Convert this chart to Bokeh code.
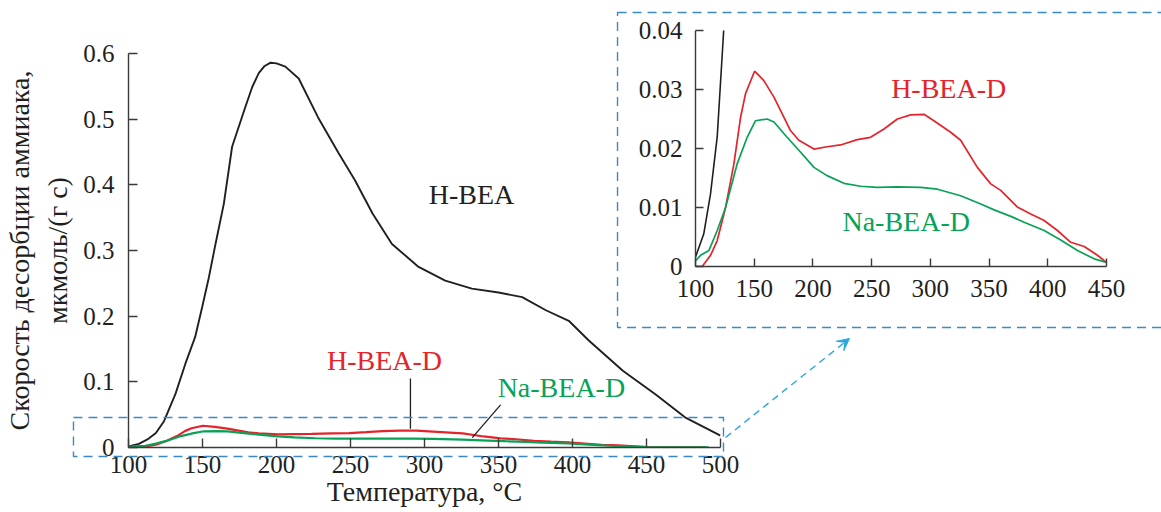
from bokeh.plotting import figure
from bokeh.models import (Range1d, FixedTicker, NumeralTickFormatter, Label, Arrow,
                          VeeHead, BoxAnnotation, Column)
from bokeh.embed import file_html
from bokeh.resources import INLINE

# ---------------- data ----------------
temp_hbea = [100, 107, 112.8, 118.5, 124, 131.8, 138.5, 145, 149.8, 154.3, 158.8, 164.4, 170, 179,
             183.6, 188, 192, 196, 200, 206, 215, 228, 242, 253, 265, 278, 296, 314, 332, 350,
             366, 382, 397.5, 411, 434, 456, 476, 500]
rate_hbea = [0.0016, 0.0055, 0.0123, 0.022, 0.040, 0.082, 0.128, 0.168, 0.214, 0.259, 0.31, 0.371,
             0.458, 0.519, 0.549, 0.57, 0.581, 0.586, 0.585, 0.58, 0.562, 0.503, 0.448, 0.407,
             0.356, 0.31, 0.275, 0.254, 0.242, 0.236, 0.229, 0.209, 0.193, 0.163, 0.117, 0.081,
             0.046, 0.018]

temp_hbead = [100, 105.7, 112.8, 118.5, 125.6, 132.7, 138.4, 142.6, 150.3, 158.2, 166.8, 181, 188,
              200.9, 212, 223.6, 237.8, 249, 260.5, 271.9, 283.2, 294.6, 303, 317, 325.8, 340,
              351.4, 359.9, 374, 385.5, 396.9, 408.2, 419.6, 431, 442.3, 450, 470, 490]
rate_hbead = [0, 0, 0.0019, 0.0044, 0.010, 0.0174, 0.0253, 0.0293, 0.0331, 0.0315, 0.0287, 0.023,
              0.0214, 0.0199, 0.0203, 0.0206, 0.0215, 0.0219, 0.0233, 0.025, 0.0257, 0.0258,
              0.0247, 0.0228, 0.0214, 0.0168, 0.014, 0.0129, 0.0101, 0.0089, 0.0078, 0.0061,
              0.0041, 0.0034, 0.0019, 0.0007, 0.0004, 0.0003]

temp_nabead = [100, 104.3, 111.4, 118.5, 125.6, 135.5, 144, 151, 161, 166.8, 178, 188, 200.9, 212,
               226.4, 240.6, 254.8, 271.9, 291.8, 306, 325.8, 342.9, 354.3, 368.5, 379.8, 396.9,
               411, 425.3, 439.5, 450, 470, 492]
rate_nabead = [0.001, 0.0019, 0.0027, 0.0061, 0.010, 0.0174, 0.0219, 0.0247, 0.025, 0.0245, 0.0219,
               0.0197, 0.0168, 0.0154, 0.0141, 0.0136, 0.0134, 0.0135, 0.0134, 0.0131, 0.012,
               0.0106, 0.0096, 0.0085, 0.0075, 0.0061, 0.0045, 0.0027, 0.0013, 0.0007, 0.0004,
               0.0004]

main_xticks = [100, 150, 200, 250, 300, 350, 400, 450, 500]
main_yticks = [0, 0.1, 0.2, 0.3, 0.4, 0.5, 0.6]
inset_xticks = [100, 150, 200, 250, 300, 350, 400, 450]
inset_yticks = [0, 0.01, 0.02, 0.03, 0.04]

x_label = "Температура, °C"
y_label = "Скорость десорбции аммиака,\nмкмоль/(г с)"
name_hbea = "H-BEA"
name_hbead = "H-BEA-D"
name_nabead = "Na-BEA-D"

# annotation anchors (data units of the plot they belong to)
main_label_pos = {name_hbea: (331.8, 0.385), name_hbead: (273, 0.132), name_nabead: (392.5, 0.091)}
inset_label_pos = {name_hbead: (315.6, 0.0302), name_nabead: (279.4, 0.00756)}
leader_x0 = [290.5, 351.4]
leader_y0 = [0.105, 0.065]
leader_x1 = [290.5, 332.3]
leader_y1 = [0.0285, 0.015]
zoom_box = dict(left=66.2, right=505.4, bottom=-0.0183, top=0.0411)
inset_box = dict(left=433.8, right=810.0, bottom=0.1782, top=0.6578)
arrow_xy = dict(x_start=506.8, y_start=0.0107, x_end=590.5, y_end=0.1614)

# ---------------- layout / style ----------------
W, H = 1161, 512
MAIN_L, MAIN_R, MAIN_T, MAIN_B = 123, 715, 53, 447
INS_L, INS_R, INS_T, INS_B = 695, 1106, 33, 269
FONT = "Liberation Serif"
BLACK = "#231f20"
RED = "#e4232b"
GREEN = "#08a257"
BOX = "#3b8ac4"
ARROW = "#2aa7df"
AXC = "#3a3a3a"
OVERLAY = {"position": "absolute", "left": "0px", "top": "0px"}


def style_axes(fig, xstand, ystand):
    for ax in (fig.xaxis[0], fig.yaxis[0]):
        ax.major_tick_in = 9
        ax.major_tick_out = 0
        ax.minor_tick_line_color = None
        ax.axis_line_color = AXC
        ax.axis_line_width = 1.4
        ax.major_tick_line_color = AXC
        ax.major_tick_line_width = 1.4
        ax.major_label_text_font = FONT
        ax.major_label_text_font_size = "25px"
        ax.major_label_text_color = BLACK
        ax.axis_label_text_font = FONT
        ax.axis_label_text_font_style = "normal"
        ax.axis_label_text_color = BLACK
    fig.xaxis[0].major_label_standoff = xstand
    fig.yaxis[0].major_label_standoff = ystand
    fig.grid.visible = False
    fig.outline_line_color = None
    fig.background_fill_color = None
    fig.border_fill_color = None


def add_label(fig, txt, xy, color):
    fig.add_layout(Label(x=xy[0], y=xy[1], text=txt, text_font=FONT, text_font_size="28px",
                         text_color=color, text_align="center", text_baseline="middle"))


# ---------------- main plot ----------------
p = figure(frame_width=MAIN_R - MAIN_L, frame_height=MAIN_B - MAIN_T,
           x_range=Range1d(100, 500), y_range=Range1d(0, 0.6),
           output_backend="svg", toolbar_location=None,
           min_border_left=MAIN_L, min_border_right=W - MAIN_R,
           min_border_top=MAIN_T, min_border_bottom=58)
style_axes(p, 8, 14)
p.xaxis[0].ticker = FixedTicker(ticks=main_xticks)
p.yaxis[0].ticker = FixedTicker(ticks=main_yticks)
p.yaxis[0].formatter = NumeralTickFormatter(format="0.[0]")
p.xaxis[0].axis_label = x_label
p.yaxis[0].axis_label = y_label
p.xaxis[0].axis_label_text_font_size = "28px"
p.yaxis[0].axis_label_text_font_size = "28px"
p.xaxis[0].axis_label_standoff = 0
p.yaxis[0].axis_label_standoff = 7
p.yaxis[0].axis_label_text_line_height = 1.25

p.line(temp_hbea, rate_hbea, line_color=BLACK, line_width=1.9)
p.line(temp_hbead, rate_hbead, line_color=RED, line_width=2.2)
p.line(temp_nabead, rate_nabead, line_color=GREEN, line_width=2.2)
p.segment(x0=leader_x0, y0=leader_y0, x1=leader_x1, y1=leader_y1,
          line_color=BLACK, line_width=1.3)

for txt, c in [(name_hbea, BLACK), (name_hbead, RED), (name_nabead, GREEN)]:
    add_label(p, txt, main_label_pos[txt], c)

# ---------------- inset ----------------
q = figure(frame_width=INS_R - INS_L, frame_height=INS_B - INS_T,
           x_range=Range1d(100, 450), y_range=Range1d(0, 0.04),
           output_backend="svg", toolbar_location=None,
           min_border_left=INS_L, min_border_right=W - INS_R,
           min_border_top=INS_T, min_border_bottom=H - INS_B)
style_axes(q, 13, 13)
q.xaxis[0].major_tick_in = 8
q.yaxis[0].major_tick_in = 8
q.xaxis[0].ticker = FixedTicker(ticks=inset_xticks)
q.yaxis[0].ticker = FixedTicker(ticks=inset_yticks)
q.yaxis[0].formatter = NumeralTickFormatter(format="0.[00]")

q.line(temp_hbea, rate_hbea, line_color=BLACK, line_width=1.6)
q.line(temp_hbead, rate_hbead, line_color=RED, line_width=1.7)
q.line(temp_nabead, rate_nabead, line_color=GREEN, line_width=1.7)

for txt, c in [(name_hbead, RED), (name_nabead, GREEN)]:
    add_label(q, txt, inset_label_pos[txt], c)

# ---------------- decorations (whole canvas, main-plot data units) ----------------
sx = (MAIN_R - MAIN_L) / (500 - 100)
sy = (MAIN_B - MAIN_T) / (0.6 - 0)
d = figure(frame_width=W, frame_height=H,
           x_range=Range1d(100 - MAIN_L / sx, 100 + (W - MAIN_L) / sx),
           y_range=Range1d(0 - (H - MAIN_B) / sy, 0.6 + MAIN_T / sy),
           x_axis_type=None, y_axis_type=None, output_backend="svg", toolbar_location=None,
           min_border=0)
d.grid.visible = False
d.outline_line_color = None
d.background_fill_color = None
d.border_fill_color = None
for box in (zoom_box, inset_box):
    d.add_layout(BoxAnnotation(**box, fill_color=None, fill_alpha=0, line_color=BOX,
                               line_alpha=1, line_width=1.4, line_dash="9 6"))
d.add_layout(Arrow(end=VeeHead(size=12, fill_color=ARROW, line_color=ARROW),
                   **arrow_xy, line_color=ARROW, line_width=1.4, line_dash="7 5"))


# ---------------- stack the three canvases ----------------
def no_frame_align(fig):
    try:
        fig.frame_align = False
        return True
    except Exception:
        return False


aligned_off = [no_frame_align(f) for f in (p, q, d)]
if all(aligned_off):
    q.margin = (-H, 0, 0, 0)
    d.margin = (-H, 0, 0, 0)
    out = Column(children=[p, q, d])
else:
    q.styles = OVERLAY
    d.styles = OVERLAY
    out = [p, q, d]

open("out.html", "w").write(file_html(out, INLINE, title="TPD NH3"))
